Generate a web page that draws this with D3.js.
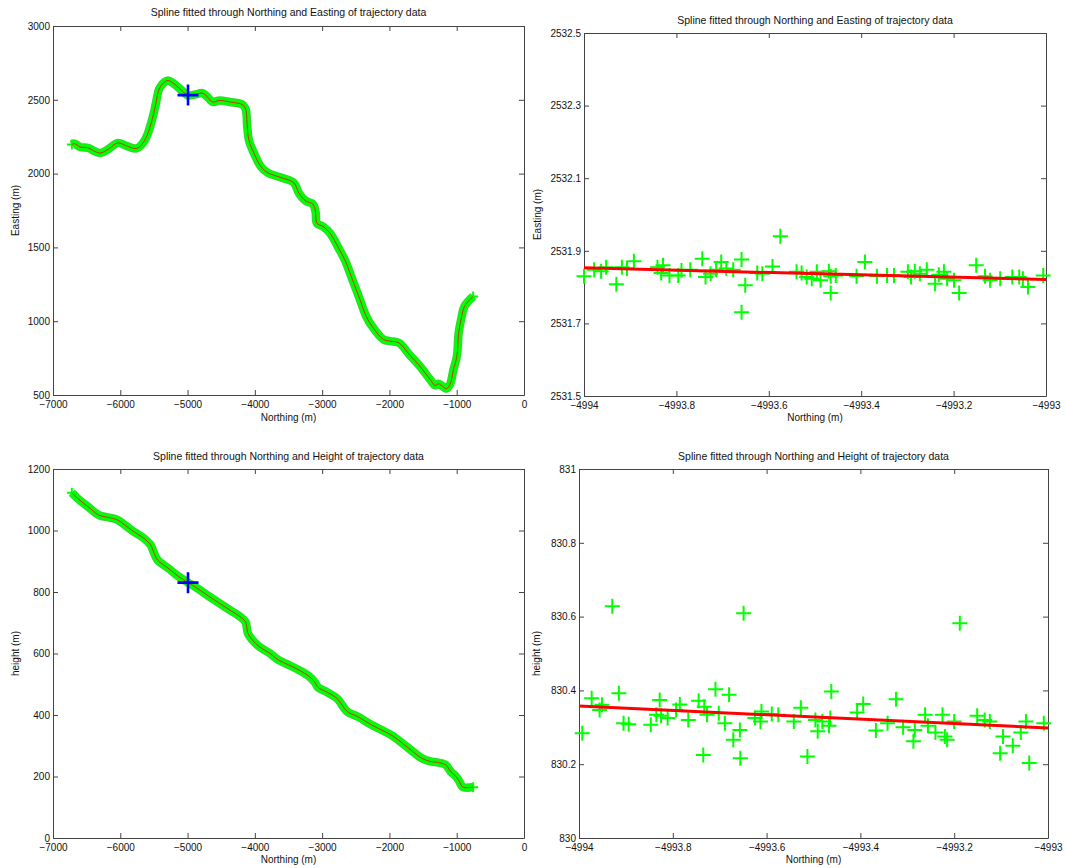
<!DOCTYPE html>
<html>
<head>
<meta charset="utf-8">
<script src="https://cdn.jsdelivr.net/npm/d3@7"></script>
<style>
  html, body { margin: 0; padding: 0; background: #fff; }
  svg { display: block; font-family: "Liberation Sans", Arial, Helvetica, sans-serif; }
</style>
</head>
<body>
<svg id="fig" width="1066" height="868"></svg>
<script>
// Trajectory: Northing vs Easting (m)
const trackNorthingE = [-6720, -6677, -6600, -6472, -6395, -6292, -6164, -6036, -5908, -5764, -5677, -5600, -5523, -5472, -5421, -5344, -5292, -5215, -5087, -4995, -4882, -4779, -4703, -4626, -4523, -4370, -4190, -4139, -4113, -4088, -4011, -3908, -3806, -3601, -3421, -3344, -3242, -3139, -3098, -3077, -2986, -2883, -2755, -2652, -2550, -2447, -2345, -2242, -2088, -1986, -1858, -1704, -1550, -1396, -1320, -1268, -1217, -1155, -1099, -1048, -997, -971, -935, -884, -756];
const trackEasting = [2197, 2203, 2181, 2174, 2154, 2140, 2170, 2208, 2188, 2170, 2199, 2260, 2372, 2473, 2575, 2620, 2631, 2613, 2564, 2530, 2537, 2545, 2518, 2485, 2496, 2485, 2469, 2440, 2316, 2226, 2136, 2046, 2005, 1972, 1938, 1866, 1814, 1794, 1742, 1663, 1641, 1596, 1495, 1405, 1281, 1157, 1033, 955, 876, 865, 853, 774, 696, 606, 565, 576, 561, 543, 572, 673, 763, 921, 1011, 1101, 1168];

// Trajectory: Northing vs height (m)
const trackNorthingH = [-6720, -6626, -6472, -6318, -6164, -6036, -5933, -5805, -5651, -5549, -5497, -5446, -5292, -5138, -4995, -4856, -4677, -4523, -4370, -4216, -4139, -4103, -4036, -3933, -3780, -3652, -3498, -3344, -3190, -3113, -3062, -2934, -2780, -2626, -2473, -2268, -2114, -1960, -1806, -1652, -1524, -1396, -1320, -1166, -1089, -1012, -961, -910, -756];
const trackHeight = [1123, 1103, 1076, 1050, 1042, 1034, 1018, 997, 975, 953, 926, 904, 878, 851, 831, 812, 785, 763, 741, 719, 703, 665, 644, 622, 601, 579, 563, 546, 525, 508, 490, 475, 454, 411, 395, 368, 351, 333, 308, 281, 260, 249, 247, 238, 216, 200, 184, 166, 165];

// Selected fix shown with the blue cross
const fixNorthing = -4993.5;
const fixEasting = 2531.84;
const fixHeight = 830.33;

// Raw samples near the fix: Northing vs Easting
const zoomNorthingE = [-4994.000, -4993.978, -4993.963, -4993.952, -4993.930, -4993.918, -4993.907, -4993.892, -4993.841, -4993.833, -4993.829, -4993.815, -4993.796, -4993.789, -4993.770, -4993.744, -4993.737, -4993.726, -4993.714, -4993.703, -4993.692, -4993.677, -4993.659, -4993.651, -4993.659, -4993.625, -4993.614, -4993.592, -4993.575, -4993.540, -4993.529, -4993.518, -4993.507, -4993.496, -4993.488, -4993.470, -4993.466, -4993.466, -4993.455, -4993.410, -4993.392, -4993.366, -4993.344, -4993.329, -4993.299, -4993.292, -4993.284, -4993.273, -4993.258, -4993.240, -4993.232, -4993.221, -4993.214, -4993.199, -4993.188, -4993.151, -4993.132, -4993.121, -4993.099, -4993.073, -4993.058, -4993.050, -4993.039, -4993.006];
const zoomEasting = [2531.830, 2531.848, 2531.844, 2531.855, 2531.808, 2531.855, 2531.851, 2531.871, 2531.855, 2531.839, 2531.860, 2531.832, 2531.832, 2531.846, 2531.848, 2531.878, 2531.828, 2531.837, 2531.848, 2531.869, 2531.851, 2531.848, 2531.876, 2531.805, 2531.731, 2531.839, 2531.837, 2531.857, 2531.940, 2531.842, 2531.839, 2531.828, 2531.823, 2531.842, 2531.819, 2531.844, 2531.830, 2531.784, 2531.832, 2531.830, 2531.869, 2531.830, 2531.832, 2531.832, 2531.842, 2531.828, 2531.844, 2531.837, 2531.848, 2531.809, 2531.834, 2531.842, 2531.823, 2531.819, 2531.784, 2531.860, 2531.830, 2531.819, 2531.823, 2531.828, 2531.828, 2531.823, 2531.800, 2531.832];

// Raw samples near the fix: Northing vs height
const zoomNorthingH = [-4993.993, -4993.973, -4993.956, -4993.951, -4993.929, -4993.915, -4993.905, -4993.894, -4993.847, -4993.835, -4993.828, -4993.825, -4993.811, -4993.793, -4993.785, -4993.767, -4993.745, -4993.735, -4993.733, -4993.727, -4993.709, -4993.702, -4993.689, -4993.680, -4993.671, -4993.657, -4993.656, -4993.649, -4993.625, -4993.613, -4993.611, -4993.589, -4993.575, -4993.542, -4993.527, -4993.513, -4993.496, -4993.491, -4993.481, -4993.467, -4993.464, -4993.462, -4993.407, -4993.394, -4993.367, -4993.342, -4993.324, -4993.309, -4993.287, -4993.284, -4993.262, -4993.256, -4993.240, -4993.225, -4993.220, -4993.215, -4993.200, -4993.188, -4993.151, -4993.135, -4993.124, -4993.102, -4993.096, -4993.075, -4993.058, -4993.047, -4993.040, -4993.009];
const zoomHeight = [830.284, 830.379, 830.347, 830.361, 830.628, 830.392, 830.311, 830.308, 830.307, 830.334, 830.374, 830.331, 830.325, 830.347, 830.362, 830.320, 830.372, 830.225, 830.356, 830.334, 830.403, 830.338, 830.311, 830.388, 830.266, 830.293, 830.216, 830.609, 830.325, 830.316, 830.343, 830.336, 830.334, 830.316, 830.353, 830.221, 830.320, 830.289, 830.316, 830.304, 830.325, 830.397, 830.340, 830.363, 830.291, 830.311, 830.376, 830.300, 830.262, 830.293, 830.334, 830.304, 830.286, 830.334, 830.275, 830.266, 830.316, 830.582, 830.331, 830.320, 830.316, 830.230, 830.275, 830.250, 830.286, 830.316, 830.203, 830.311];

// Local spline segment across the zoom window
const fitNorthing = [-4994, -4993];
const fitEasting = [2531.853, 2531.821];
const fitHeight = [830.358, 830.298];

// Tick values
const ticksNorthingWide = [-7000, -6000, -5000, -4000, -3000, -2000, -1000, 0];
const ticksEastingWide = [500, 1000, 1500, 2000, 2500, 3000];
const ticksHeightWide = [0, 200, 400, 600, 800, 1000, 1200];
const ticksNorthingZoom = [-4994, -4993.8, -4993.6, -4993.4, -4993.2, -4993];
const ticksEastingZoom = [2531.5, 2531.7, 2531.9, 2532.1, 2532.3, 2532.5];
const ticksHeightZoom = [830, 830.2, 830.4, 830.6, 830.8, 831];

const titleE = "Spline fitted through Northing and Easting of trajectory data";
const titleH = "Spline fitted through Northing and Height of trajectory data";

const svg = d3.select("#fig");
svg.append("rect").attr("width", 1066).attr("height", 868).attr("fill", "#fff");

const fmt = d3.format("");
const TICK = 5;

function plus(s) { return `M${-s},0H${s}M0,${-s}V${s}`; }

function makePanel(cfg) {
  const x = d3.scaleLinear().domain(cfg.xDomain).range([cfg.left, cfg.right]);
  const y = d3.scaleLinear().domain(cfg.yDomain).range([cfg.bottom, cfg.top]);
  const g = svg.append("g");

  // axes with inward ticks on all four sides (box style)
  const axisColor = "#444";
  const bottomAx = g.append("g").attr("transform", `translate(0,${cfg.bottom})`)
    .call(d3.axisBottom(x).tickValues(cfg.xTicks).tickFormat(fmt).tickSizeInner(-TICK).tickSizeOuter(0).tickPadding(3));
  const topAx = g.append("g").attr("transform", `translate(0,${cfg.top})`)
    .call(d3.axisTop(x).tickValues(cfg.xTicks).tickFormat("").tickSizeInner(-TICK).tickSizeOuter(0));
  const leftAx = g.append("g").attr("transform", `translate(${cfg.left},0)`)
    .call(d3.axisLeft(y).tickValues(cfg.yTicks).tickFormat(fmt).tickSizeInner(-TICK).tickSizeOuter(0).tickPadding(3));
  const rightAx = g.append("g").attr("transform", `translate(${cfg.right},0)`)
    .call(d3.axisRight(y).tickValues(cfg.yTicks).tickFormat("").tickSizeInner(-TICK).tickSizeOuter(0));
  [bottomAx, topAx, leftAx, rightAx].forEach(a => {
    a.select(".domain").attr("stroke", axisColor);
    a.selectAll(".tick line").attr("stroke", axisColor);
    a.selectAll("text").attr("fill", "#111").attr("font-size", 10).attr("font-family", "Liberation Sans, Arial, sans-serif");
  });
  bottomAx.selectAll("text").attr("y", 6).attr("dy", "0.71em");

  // title and axis labels
  g.append("text").attr("x", (cfg.left + cfg.right) / 2).attr("y", cfg.titleY)
    .attr("text-anchor", "middle").attr("font-size", 10.5).attr("fill", "#111").text(cfg.title);
  g.append("text").attr("x", (cfg.left + cfg.right) / 2).attr("y", cfg.xLabelY)
    .attr("text-anchor", "middle").attr("font-size", 10).attr("fill", "#111").text("Northing (m)");
  g.append("text").attr("transform", `translate(${cfg.yLabelX},${(cfg.top + cfg.bottom) / 2}) rotate(-90)`)
    .attr("text-anchor", "middle").attr("font-size", 10).attr("fill", "#111").text(cfg.yLabel);

  return { g, x, y };
}

// Wide view: thick band of samples, thin spline, blue fix cross
function drawTrack(p, xs, ys, fx, fy) {
  const pts = xs.map((d, i) => [d, ys[i]]);
  const line = d3.line().x(d => p.x(d[0])).y(d => p.y(d[1])).curve(d3.curveCatmullRom.alpha(0.5));
  p.g.append("path").attr("d", line(pts)).attr("fill", "none")
    .attr("stroke", "#3ad23a").attr("stroke-width", 8.5).attr("stroke-linejoin", "round").attr("stroke-linecap", "butt");
  p.g.append("path").attr("d", line(pts)).attr("fill", "none")
    .attr("stroke", "#00ff00").attr("stroke-width", 6.5).attr("stroke-linejoin", "round").attr("stroke-linecap", "butt");
  // sample markers at the ends of the band
  [pts[0], pts[pts.length - 1]].forEach(d => {
    p.g.append("path").attr("d", plus(5)).attr("transform", `translate(${p.x(d[0])},${p.y(d[1])})`)
      .attr("stroke", "#00ff00").attr("stroke-width", 2).attr("fill", "none");
  });
  p.g.append("path").attr("d", line(pts)).attr("fill", "none")
    .attr("stroke", "#ff0000").attr("stroke-width", 0.8);
  p.g.append("path").attr("d", plus(10.5)).attr("transform", `translate(${p.x(fx)},${p.y(fy)})`)
    .attr("stroke", "#0000ff").attr("stroke-width", 2.6).attr("fill", "none");
}

// Zoomed view: raw samples as crosses, fitted spline segment in red
function drawZoom(p, xs, ys, fitX, fitY) {
  p.g.append("g").selectAll("path").data(xs.map((d, i) => [d, ys[i]])).join("path")
    .attr("d", plus(7.5))
    .attr("transform", d => `translate(${p.x(d[0])},${p.y(d[1])})`)
    .attr("stroke", "#00ff00").attr("stroke-width", 2).attr("fill", "none");
  const line = d3.line().x(d => p.x(d[0])).y(d => p.y(d[1]));
  p.g.append("path").attr("d", line(fitX.map((d, i) => [d, fitY[i]])))
    .attr("fill", "none").attr("stroke", "#ff0000").attr("stroke-width", 3);
}

const p1 = makePanel({ left: 53, right: 524, top: 26, bottom: 395, xDomain: [-7000, 0], yDomain: [500, 3000],
  xTicks: ticksNorthingWide, yTicks: ticksEastingWide, title: titleE, titleY: 16, xLabelY: 421, yLabelX: 19, yLabel: "Easting (m)" });
drawTrack(p1, trackNorthingE, trackEasting, fixNorthing, fixEasting);

const p2 = makePanel({ left: 584, right: 1046, top: 33, bottom: 396, xDomain: [-4994, -4993], yDomain: [2531.5, 2532.5],
  xTicks: ticksNorthingZoom, yTicks: ticksEastingZoom, title: titleE, titleY: 24, xLabelY: 421, yLabelX: 541, yLabel: "Easting (m)" });
drawZoom(p2, zoomNorthingE, zoomEasting, fitNorthing, fitEasting);

const p3 = makePanel({ left: 53, right: 524, top: 469, bottom: 838, xDomain: [-7000, 0], yDomain: [0, 1200],
  xTicks: ticksNorthingWide, yTicks: ticksHeightWide, title: titleH, titleY: 460, xLabelY: 863, yLabelX: 19, yLabel: "height (m)" });
drawTrack(p3, trackNorthingH, trackHeight, fixNorthing, fixHeight);

const p4 = makePanel({ left: 579, right: 1048, top: 469, bottom: 838, xDomain: [-4994, -4993], yDomain: [830, 831],
  xTicks: ticksNorthingZoom, yTicks: ticksHeightZoom, title: titleH, titleY: 460, xLabelY: 863, yLabelX: 540, yLabel: "height (m)" });
drawZoom(p4, zoomNorthingH, zoomHeight, fitNorthing, fitHeight);
</script>
</body>
</html>
